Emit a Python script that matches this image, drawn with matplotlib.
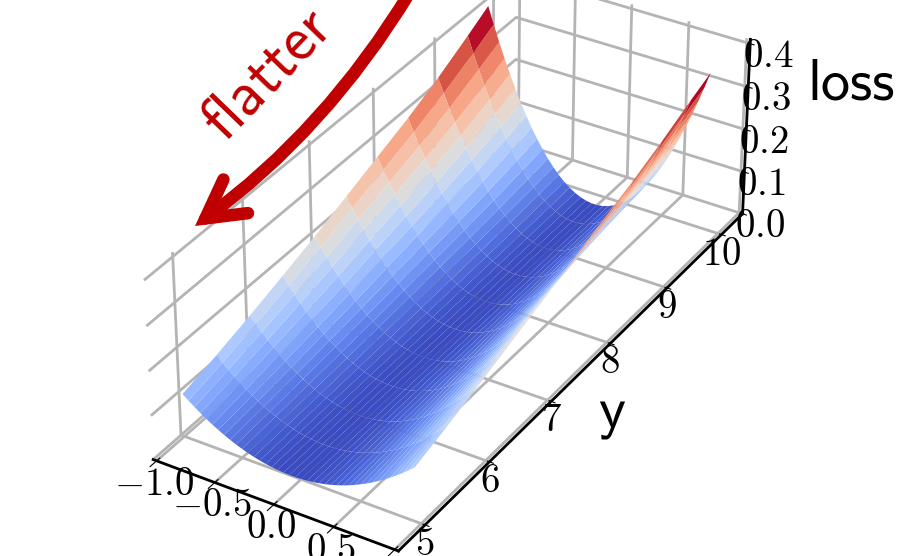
import numpy as np
import matplotlib
matplotlib.use('Agg')
import matplotlib.pyplot as plt
from matplotlib.patches import FancyArrowPatch

plt.rcParams['mathtext.fontset'] = 'cm'
plt.rcParams['grid.color'] = '#b4b4b4'
plt.rcParams['grid.linewidth'] = 2.0

x_values = [-1.0, -.95, -.9, -.85, -.8, -.75, -.7, -.65, -.6, -.55, -.5, -.45, -.4, -.35, -.3, -.25, -.2, -.15, -.1, -.05,
            0.0, .05, .1, .15, .2, .25, .3, .35, .4, .45, .5, .55, .6, .65, .7, .75, .8, .85, .9, .95]
y_values = [5, 5.5, 6, 6.5, 7, 7.5, 8, 8.5, 9, 9.5, 9.85]

# loss, one row per y value
loss = [
    [.0970, .0867, .0771, .0679, .0594, .0514, .0441, .0372, .0310, .0253, .0202, .0157, .0117, .0084, .0055, .0033, .0017, .0006, .0000, .0001,
     .0007, .0019, .0037, .0061, .0090, .0125, .0165, .0212, .0264, .0322, .0386, .0455, .0530, .0611, .0697, .0789, .0887, .0991, .1101, .1216],
    [.1180, .1056, .0939, .0828, .0725, .0629, .0539, .0456, .0380, .0311, .0249, .0194, .0146, .0105, .0070, .0042, .0022, .0008, .0001, .0001,
     .0008, .0021, .0042, .0069, .0104, .0145, .0193, .0248, .0310, .0379, .0455, .0537, .0627, .0723, .0826, .0936, .1054, .1177, .1308, .1446],
    [.1420, .1272, .1131, .0999, .0875, .0760, .0652, .0553, .0462, .0379, .0304, .0238, .0180, .0129, .0087, .0054, .0028, .0011, .0002, .0001,
     .0008, .0023, .0047, .0079, .0119, .0167, .0223, .0288, .0360, .0441, .0530, .0628, .0733, .0847, .0969, .1099, .1237, .1384, .1538, .1701],
    [.1680, .1505, .1340, .1185, .1039, .0903, .0776, .0659, .0551, .0453, .0365, .0286, .0217, .0157, .0107, .0067, .0036, .0014, .0002, .0000,
     .0008, .0025, .0051, .0087, .0133, .0188, .0253, .0328, .0411, .0505, .0608, .0721, .0843, .0975, .1117, .1268, .1428, .1599, .1778, .1968],
    [.1950, .1749, .1558, .1378, .1210, .1052, .0906, .0770, .0646, .0532, .0429, .0338, .0257, .0187, .0129, .0081, .0044, .0019, .0004, .0000,
     .0007, .0026, .0055, .0095, .0146, .0209, .0282, .0366, .0461, .0567, .0684, .0812, .0952, .1102, .1263, .1435, .1618, .1812, .2017, .2233],
    [.2250, .2019, .1800, .1594, .1400, .1219, .1051, .0895, .0751, .0620, .0502, .0396, .0303, .0222, .0154, .0098, .0055, .0024, .0006, .0000,
     .0007, .0026, .0058, .0103, .0160, .0229, .0312, .0406, .0513, .0633, .0765, .0910, .1067, .1237, .1419, .1614, .1821, .2041, .2274, .2519],
    [.2550, .2289, .2043, .1810, .1592, .1388, .1197, .1021, .0859, .0710, .0576, .0456, .0350, .0258, .0180, .0116, .0066, .0030, .0008, .0000,
     .0006, .0026, .0061, .0109, .0171, .0248, .0338, .0442, .0561, .0694, .0840, .1001, .1175, .1364, .1567, .1783, .2014, .2259, .2518, .2791],
    [.2850, .2561, .2286, .2028, .1785, .1557, .1345, .1149, .0968, .0802, .0652, .0518, .0399, .0295, .0207, .0135, .0078, .0037, .0011, .0000,
     .0005, .0026, .0062, .0114, .0181, .0264, .0362, .0476, .0605, .0749, .0910, .1085, .1277, .1483, .1706, .1944, .2197, .2466, .2750, .3050],
    [.3200, .2877, .2571, .2282, .2010, .1755, .1518, .1298, .1095, .0910, .0741, .0590, .0456, .0340, .0240, .0158, .0093, .0045, .0014, .0001,
     .0004, .0025, .0064, .0119, .0192, .0282, .0389, .0513, .0655, .0813, .0989, .1183, .1393, .1621, .1865, .2127, .2407, .2703, .3017, .3348],
    [.3600, .3238, .2896, .2572, .2268, .1983, .1717, .1470, .1242, .1034, .0844, .0674, .0523, .0391, .0278, .0185, .0110, .0055, .0018, .0002,
     .0003, .0025, .0065, .0125, .0203, .0301, .0418, .0555, .0710, .0884, .1078, .1291, .1522, .1774, .2044, .2333, .2642, .2970, .3316, .3682],
    [.3900, .3510, .3141, .2792, .2464, .2156, .1869, .1602, .1356, .1131, .0926, .0741, .0577, .0433, .0310, .0208, .0126, .0064, .0023, .0002,
     .0002, .0023, .0064, .0126, .0208, .0310, .0433, .0577, .0741, .0926, .1131, .1356, .1602, .1869, .2156, .2464, .2792, .3141, .3510, .3900],
]

x_ticks = [-1.0, -0.5, 0.0, 0.5, 1.0]
y_ticks = [5, 6, 7, 8, 9, 10]
z_ticks = [0.0, 0.1, 0.2, 0.3, 0.4]

W, H = 908, 556
fig = plt.figure(figsize=(W / 100, H / 100), dpi=100)
S = 750
cx, cy = 451, 253
ax = fig.add_axes([(cx - S / 2) / W, 1 - (cy + S / 2) / H, S / W, S / H], projection='3d')
ax.view_init(elev=33, azim=-58.7)
ax.set_box_aspect((269, 660, 205), zoom=1.0)

X, Y = np.meshgrid(x_values, y_values)
ax.plot_surface(X, Y, np.array(loss), cmap='coolwarm', linewidth=0, antialiased=True, rcount=100, ccount=100)

ax.set_xlim(-1.03, 1.03)
ax.set_ylim(4.6, 10.4)
ax.set_zlim(0, 0.41)
ax.set_xticks(x_ticks)
ax.set_yticks(y_ticks)
ax.set_zticks(z_ticks)
ax.set_xticklabels(['$%.1f$' % v for v in x_ticks], fontsize=28)
ax.set_yticklabels(['$%d$' % v for v in y_ticks], fontsize=28)
ax.set_zticklabels(['$%.1f$' % v for v in z_ticks], fontsize=28)

ax.xaxis.set_tick_params(pad=-6, width=1.5)
ax.yaxis.set_tick_params(pad=-8, width=1.5)
ax.zaxis.set_tick_params(pad=1, width=1.5)
for axis in (ax.xaxis, ax.yaxis, ax.zaxis):
    axis.set_pane_color((1, 1, 1, 0))
    axis.line.set_linewidth(2)
    axis.line.set_color('black')

fig.text(807 / W, 1 - 100 / H, 'loss', fontfamily='cmss10', fontsize=42, ha='left', va='baseline')
fig.text(598 / W, 1 - 428 / H, 'y', fontfamily='cmss10', fontsize=42, ha='left', va='baseline')
fig.text(268 / W, 1 - 75 / H, 'flatter', fontfamily='cmss10', fontsize=45, color='#c00000', rotation=46,
         ha='center', va='center')

arrow = FancyArrowPatch((410 / W, 1 + 8 / H), (195 / W, 1 - 226 / H), transform=fig.transFigure,
                        connectionstyle='arc3,rad=-0.1', arrowstyle='->,head_length=27,head_width=15',
                        mutation_scale=1, linewidth=9, color='#c00000', capstyle='round', joinstyle='miter',
                        shrinkA=0, shrinkB=0, clip_on=False)
fig.add_artist(arrow)

fig.savefig('out.png', dpi=100)
